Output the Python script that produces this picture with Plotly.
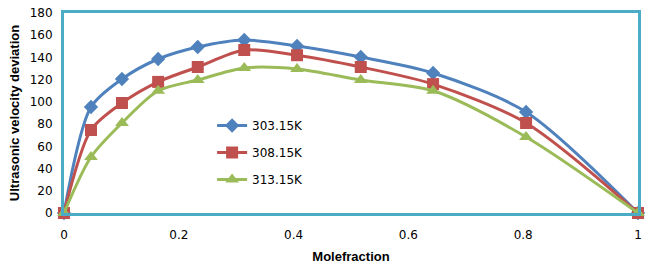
import plotly.graph_objects as go

x = [0, 0.047, 0.101, 0.164, 0.233, 0.314, 0.406, 0.517, 0.643, 0.805, 1]
t303 = [0, 95.4, 120.6, 138.6, 149.4, 155.7, 150.3, 140.4, 126, 90.9, 0]
t308 = [0, 74.7, 99, 118, 131.4, 146.7, 142, 131.4, 116, 81, 0]
t313 = [0, 50.4, 81, 110, 119.7, 130.5, 129.6, 119.7, 110, 68.4, 0]
names = ["303.15K", "308.15K", "313.15K"]
colors = ["#4F81BD", "#C0504D", "#9BBB59"]
symbols = ["diamond", "square", "triangle-up"]
sizes = [11, 12, 12]

fig = go.Figure()
for i, ys in enumerate([t303, t308, t313]):
    fig.add_trace(go.Scatter(
        x=x, y=ys, name=names[i], mode="lines+markers",
        line=dict(color=colors[i], width=3, shape="spline", smoothing=0.8),
        marker=dict(symbol=symbols[i], size=sizes[i], color=colors[i]),
        legendgroup=names[i], cliponaxis=False,
    ))

frame = "#4BACC6"
fig.update_layout(
    width=650, height=270,
    margin=dict(l=64, r=12, t=13, b=57, autoexpand=False),
    paper_bgcolor="white", plot_bgcolor="white",
    font=dict(family="DejaVu Sans", size=12, color="black"),
    showlegend=True,
    legend=dict(x=0.258, y=0.51, xanchor="left", yanchor="top",
                bgcolor="rgba(0,0,0,0)", traceorder="grouped",
                tracegroupgap=8, font=dict(size=12)),
    xaxis=dict(range=[0, 1], tickvals=[0, 0.2, 0.4, 0.6, 0.8, 1],
               ticktext=["0", "0.2", "0.4", "0.6", "0.8", "1"],
               showgrid=False, zeroline=False, showline=True, linecolor=frame,
               linewidth=3, mirror=True, ticks="", ticklen=0, automargin=False,
               ticklabelstandoff=9,
               title=dict(text="<b>Molefraction</b>", font=dict(family="Liberation Sans", size=13), standoff=11)),
    yaxis=dict(range=[0, 180], tickvals=list(range(0, 181, 20)),
               showgrid=False, zeroline=False, showline=True, linecolor=frame,
               linewidth=3, mirror=True, ticks="", ticklen=0, automargin=False,
               ticklabelstandoff=6,
               title=dict(text="<b>Ultrasonic velocity deviation</b>", font=dict(family="Liberation Sans", size=13), standoff=8)),
)
fig.write_html("out.html", post_script=["document.body.style.margin='0';"],
               config={"displayModeBar": False})
